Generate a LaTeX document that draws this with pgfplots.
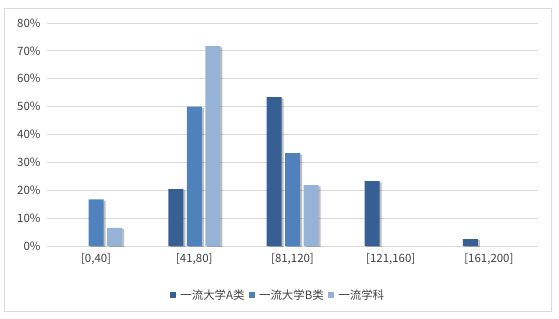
\documentclass[border=0pt]{standalone}
\usepackage{pgfplots}
\pgfplotsset{compat=1.18}
\usepackage{fontspec}
\setmainfont{Noto Sans CJK SC}
\usetikzlibrary{shadows}
\definecolor{cA}{HTML}{375F93}
\definecolor{cB}{HTML}{4F81BD}
\definecolor{cC}{HTML}{95B3D7}
\definecolor{gridc}{HTML}{D9D9D9}
\definecolor{txt}{HTML}{404040}
\tikzset{shd/.style={drop shadow={shadow xshift=2bp, shadow yshift=-1.2bp, opacity=0.25, fill=black}}}
\begin{document}
\begin{tikzpicture}[x=1bp,y=1bp]
\useasboundingbox (0,0) rectangle (559,318);
\draw[gridc, line width=0.8bp] (4.5,6.5) rectangle (551.5,310);
\begin{axis}[
  at={(47bp,72bp)}, anchor=south west,
  scale only axis, width=491bp, height=223bp,
  xmin=-0.5, xmax=4.5, ymin=0, ymax=80,
  ytick={0,10,...,80},
  yticklabel={\pgfmathprintnumber{\tick}\%},
  xtick={0,1,2,3,4},
  xticklabels={{[0,40]},{[41,80]},{[81,120]},{[121,160]},{[161,200]}},
  axis line style={draw=none},
  major tick length=0pt,
  ymajorgrids, grid style={gridc, line width=0.8bp},
  tick label style={font=\fontsize{11.5}{13}\selectfont, text=txt},
  /pgf/number format/assume math mode=true,
  yticklabel style={xshift=-3bp},
  xticklabel style={yshift=-4bp},
  bar width=15bp,
  legend style={at={(0.4705,-0.2197)}, anchor=center, draw=none, fill=none,
    legend columns=3, font=\fontsize{11.5}{13}\selectfont, text=txt,
    /tikz/every odd column/.append style={column sep=2bp},
    /tikz/every even column/.append style={column sep=2bp}},
  legend cell align=left,
  legend image code/.code={\fill[#1] (0,-3.2bp) rectangle (6.5bp,3.2bp);},
  every axis plot/.append style={draw=none},
]
\addplot[ybar, bar shift=-18.5bp, fill=cA, shd, forget plot] coordinates {(1,20.4) (2,53.4) (3,23.3) (4,2.5)};
\addplot[ybar, bar shift=0bp, fill=cB, shd, forget plot] coordinates {(0,16.7) (1,50.0) (2,33.3)};
\addplot[ybar, bar shift=18.5bp, fill=cC, shd, forget plot] coordinates {(0,6.5) (1,71.7) (2,21.8)};
\addlegendimage{fill=cA, draw=none}
\addlegendimage{fill=cB, draw=none}
\addlegendimage{fill=cC, draw=none}
\legend{一流大学A类,一流大学B类,一流学科}
\end{axis}
\end{tikzpicture}
\end{document}
